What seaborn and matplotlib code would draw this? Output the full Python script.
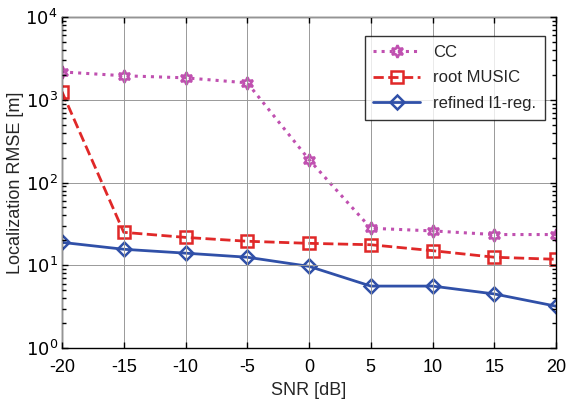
import numpy as np
import pandas as pd
import matplotlib
matplotlib.use("Agg")
import matplotlib.pyplot as plt
import matplotlib.ticker as mticker
import seaborn as sns

snr = [-20, -15, -10, -5, 0, 5, 10, 15, 20]
cc = [2170, 1950, 1840, 1600, 189, 28, 26, 23.5, 23.5]
root_music = [1250, 25, 21.7, 19.5, 18.4, 17.7, 15, 12.5, 11.8]
refined_l1 = [18.9, 15.6, 14.0, 12.5, 9.7, 5.6, 5.6, 4.5, 3.2]

sns.set_theme(style="ticks", rc={"axes.axisbelow": False})
plt.rcParams["font.family"] = ["Liberation Sans", "DejaVu Sans"]

fig = plt.figure(figsize=(5.66, 4.0), dpi=100)
ax = fig.add_axes([0.1095, 0.13, 0.873, 0.8275])

# ── series ────────────────────────────────────────────────
sns.lineplot(x=snr, y=cc, ax=ax, color="#c050b0", linestyle=":", linewidth=2.2,
             marker=(6, 1, 0), markersize=9, markerfacecolor="none",
             markeredgecolor="#c050b0", markeredgewidth=1.8, label="CC")
sns.lineplot(x=snr, y=root_music, ax=ax, color="#e02828", linestyle="--", linewidth=2,
             dashes=(3, 1.6), marker="s", markersize=8, markerfacecolor="none",
             markeredgecolor="#e02828", markeredgewidth=1.8, label="root MUSIC")
sns.lineplot(x=snr, y=refined_l1, ax=ax, color="#3050a8", linestyle="-", linewidth=2,
             marker="D", markersize=7, markerfacecolor="none",
             markeredgecolor="#3050a8", markeredgewidth=1.8, label="refined l1-reg.")

ax.set_yscale("log")
ax.set_xlim(-20, 20)
ax.set_ylim(1, 1e4)
ax.set_xticks(snr)
ax.set_xticklabels([str(v) for v in snr])
ax.set_yticks([1, 10, 100, 1000, 10000])
ax.set_yticklabels([r"$10^{%d}$" % k for k in range(5)])
ax.yaxis.set_minor_locator(mticker.LogLocator(base=10, subs=np.arange(2, 10), numticks=20))
ax.yaxis.set_minor_formatter(mticker.NullFormatter())
ax.xaxis.set_minor_locator(mticker.NullLocator())

ax.grid(True, which="major", color="#999999", linewidth=0.7, zorder=0)
ax.tick_params(which="both", direction="in", top=True, right=True,
               colors="black", width=1)
ax.tick_params(which="major", length=4, labelsize=13)
ax.tick_params(which="minor", length=3)
ax.tick_params(axis="x", pad=8)
ax.tick_params(axis="y", pad=3)
for s in ax.spines.values():
    s.set_visible(True)
    s.set_color("black")
    s.set_linewidth(1)

ax.set_xlabel("SNR [dB]", fontsize=13, labelpad=4)
ax.set_ylabel("Localization RMSE [m]", fontsize=13, labelpad=1)

leg = ax.legend(loc="upper right", fontsize=12, frameon=True, fancybox=False,
                edgecolor="black", borderpad=0.5, handlelength=2.8,
                labelspacing=0.65, bbox_to_anchor=(0.994, 0.967))
leg.get_frame().set_linewidth(1)

fig.savefig("out.png", dpi=100)
